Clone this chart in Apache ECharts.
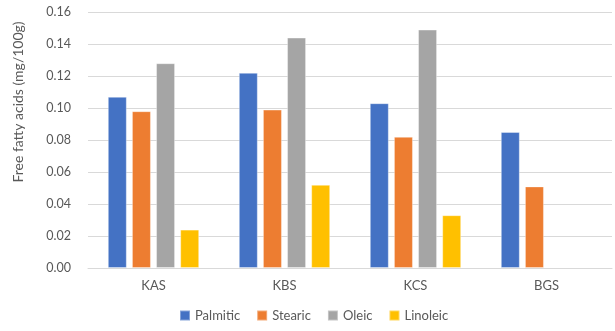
<!DOCTYPE html>
<html>
<head>
<meta charset="utf-8">
<script src="https://cdn.jsdelivr.net/npm/echarts@6/dist/echarts.min.js"></script>
<style>
html,body{margin:0;padding:0;background:#fff;}
#chart{width:615px;height:331px;}
</style>
</head>
<body>
<div id="chart"></div>
<script>
// Free fatty acid content per sample (mg/100g)
const categories = ['KAS', 'KBS', 'KCS', 'BGS'];
const palmitic = [0.107, 0.122, 0.103, 0.085];
const stearic  = [0.098, 0.099, 0.082, 0.051];
const oleic    = [0.128, 0.144, 0.149, null];
const linoleic = [0.024, 0.052, 0.033, null];
const yTicks = { min: 0, max: 0.16, interval: 0.02 };

const seriesDefs = [
  { name: 'Palmitic', data: palmitic, color: '#4472C4' },
  { name: 'Stearic',  data: stearic,  color: '#ED7D31' },
  { name: 'Oleic',    data: oleic,    color: '#A5A5A5' },
  { name: 'Linoleic', data: linoleic, color: '#FFC000' }
];

const font = 'Lato, "Open Sans", sans-serif';
const chart = echarts.init(document.getElementById('chart'));
chart.setOption({
  animation: false,
  textStyle: { fontFamily: font },
  grid: { left: 88, right: 3, top: 12, bottom: 63 },
  legend: {
    bottom: 4,
    left: 174,
    itemWidth: 10,
    itemHeight: 10,
    itemGap: 16,
    icon: 'rect',
    textStyle: { color: '#595959', fontSize: 13, fontFamily: font },
    data: seriesDefs.map(s => s.name)
  },
  xAxis: {
    type: 'category',
    data: categories,
    axisLine: { lineStyle: { color: '#D9D9D9' } },
    axisTick: { show: false },
    axisLabel: { color: '#595959', fontSize: 13, margin: 11 }
  },
  yAxis: {
    type: 'value',
    min: yTicks.min,
    max: yTicks.max,
    interval: yTicks.interval,
    axisLine: { show: false },
    axisTick: { show: false },
    axisLabel: {
      color: '#595959', fontSize: 12.5, margin: 17,
      formatter: v => v.toFixed(2)
    },
    splitLine: { lineStyle: { color: '#D9D9D9', width: 1 } }
  },
  graphic: [{
    type: 'text',
    x: 18, y: 102,
    rotation: Math.PI / 2,
    style: {
      text: 'Free fatty acids (mg/100g)',
      fill: '#595959',
      font: '14px ' + font,
      textAlign: 'center',
      textVerticalAlign: 'middle'
    }
  }],
  series: seriesDefs.map(s => ({
    name: s.name,
    type: 'bar',
    data: s.data,
    barWidth: 19,
    barGap: '27%',
    barCategoryGap: '30%',
    itemStyle: { color: s.color, borderColor: 'rgba(255,255,255,0.35)', borderWidth: 1 }
  }))
});
</script>
</body>
</html>
